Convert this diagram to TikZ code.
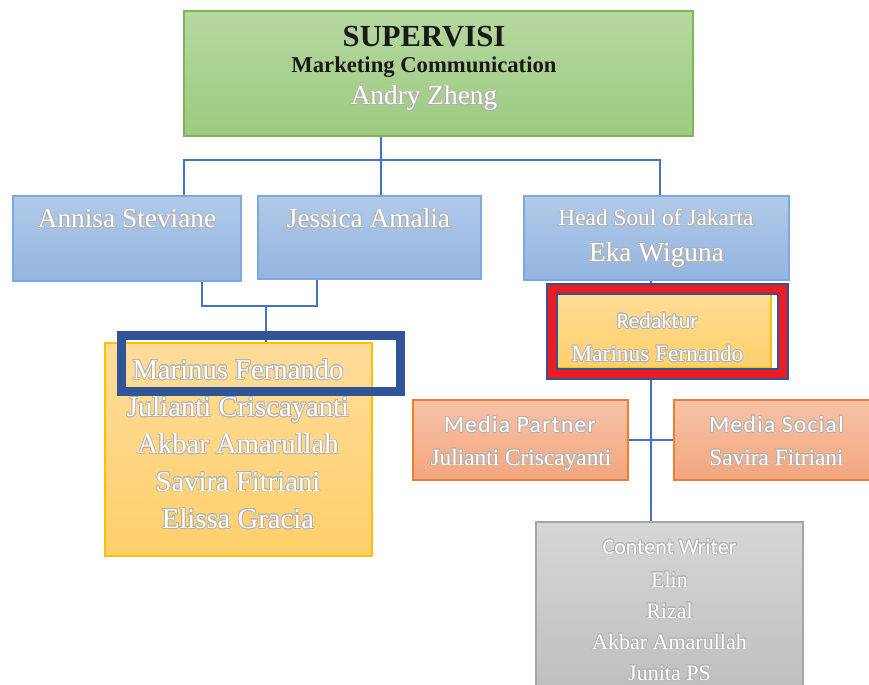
\documentclass[tikz,border=0pt]{standalone}
\usepackage{fontspec}
\setmainfont{Liberation Serif}
\newfontfamily\calfont{Carlito}
\newfontfamily\calspfont[LetterSpace=6]{Carlito}
\usepackage{contour}
\contourlength{0.6pt}
\newcommand{\wt}[1]{\contour{black!30}{#1}}

\definecolor{grTop}{HTML}{B5D8A0}
\definecolor{grBot}{HTML}{9DCA80}
\definecolor{grLine}{HTML}{7FB65A}
\definecolor{blTop}{HTML}{B0CAE9}
\definecolor{blBot}{HTML}{94B5E0}
\definecolor{blLine}{HTML}{7EA9DE}
\definecolor{yeTop}{HTML}{FFDC99}
\definecolor{yeBot}{HTML}{FFCF6B}
\definecolor{yeLine}{HTML}{FFC000}
\definecolor{orTop}{HTML}{F8C2A6}
\definecolor{orBot}{HTML}{F2A67E}
\definecolor{orLine}{HTML}{ED7D31}
\definecolor{gyTop}{HTML}{D6D6D6}
\definecolor{gyBot}{HTML}{BDBDBD}
\definecolor{gyLine}{HTML}{A5A5A5}
\definecolor{cLine}{HTML}{4472C4}
\definecolor{frBlue}{HTML}{2F5597}
\definecolor{frRed}{HTML}{ED1C24}

\begin{document}
\begin{tikzpicture}[x=0.75pt,y=-0.75pt,
  box/.style={line width=0.9pt,inner sep=0pt},
  supbox/.style={box,draw=grLine,top color=grTop,bottom color=grBot},
  bluebox/.style={box,draw=blLine,top color=blTop,bottom color=blBot},
  yelbox/.style={box,draw=yeLine,top color=yeTop,bottom color=yeBot},
  orbox/.style={box,draw=orLine,top color=orTop,bottom color=orBot},
  greybox/.style={box,draw=gyLine,top color=gyTop,bottom color=gyBot},
  conn/.style={draw=cLine,line width=2pt},
  nm/.style={anchor=base,inner sep=0pt,text=white},
  big/.style={nm,font=\fontsize{20.5}{24}\selectfont},
  mid/.style={nm,font=\fontsize{17.5}{21}\selectfont},
  sml/.style={nm,font=\fontsize{16.5}{20}\selectfont},
  cal/.style={nm,font=\fontsize{16.5}{20}\selectfont\calfont},
  calsp/.style={nm,font=\fontsize{17.5}{21}\selectfont\calspfont}]
  \useasboundingbox (0,0) rectangle (869,685);
  \clip (0,0) rectangle (869,685);

  % boxes
  \node[supbox,minimum width=381.75pt,minimum height=93.75pt] (SUP) at (438.5,73.5) {};
  \node[bluebox,minimum width=171pt,minimum height=63.75pt] (AS) at (127,238.5) {};
  \node[bluebox,minimum width=167.25pt,minimum height=62.25pt] (JA) at (369.5,237.5) {};
  \node[bluebox,minimum width=198.75pt,minimum height=63pt] (HS) at (656.5,238) {};
  \node[yelbox,minimum width=200.25pt,minimum height=159.75pt] (TEAM) at (238.5,449.5) {};
  \node[yelbox,minimum width=167.25pt,minimum height=58.5pt] (RED) at (659.5,329) {};
  \node[orbox,minimum width=161.25pt,minimum height=60pt] (MP) at (520.5,440) {};
  \node[orbox,minimum width=161.25pt,minimum height=60pt] (MS) at (781.5,440) {};
  \node[greybox,minimum width=200.25pt,minimum height=135pt] (CW) at (669.5,612) {};

  % connectors
  \coordinate (busA) at (184,160);
  \coordinate (busJ) at (381,160);
  \coordinate (busH) at (660,160);
  \coordinate (jnA) at (202,306);
  \coordinate (jnJ) at (317,306);
  \coordinate (jnM) at (266,306);
  \coordinate (spine) at (651,440);
  \draw[conn] (SUP.south -| busJ) -- (JA.north -| busJ);
  \draw[conn] (AS.north -| busA) |- (busH) -- (HS.north -| busH);
  \draw[conn] (AS.south -| jnA) |- (jnJ) -- (JA.south -| jnJ);
  \draw[conn] (jnM) -- (TEAM.north -| jnM);
  \draw[conn] (HS.south -| spine) -- (RED.north -| spine);
  \draw[conn] (RED.south -| spine) -- (CW.north -| spine);
  \draw[conn] (MP.east) -- (MS.west);

  % texts
  \node[anchor=base,inner sep=0pt,font=\fontsize{23}{28}\selectfont\bfseries,text=black!90] (SUPa) at (424,47) {SUPERVISI};
  \node[anchor=base,inner sep=0pt,font=\fontsize{17}{20}\selectfont\bfseries,text=black!90] (SUPb) at (424,73) {Marketing Communication};
  \node[big] (SUPc) at (424,105) {\wt{Andry Zheng}};
  \node[big] (ASa) at (127,228) {\wt{Annisa Steviane}};
  \node[big] (JAa) at (368.5,228) {\wt{Jessica Amalia}};
  \node[mid] (HSa) at (656,226) {\wt{Head Soul of Jakarta}};
  \node[big] (HSb) at (656.5,261.5) {\wt{Eka Wiguna}};
  \foreach \n [count=\i] in {Marinus Fernando,Julianti Criscayanti,Akbar Amarullah,Savira Fitriani,Elissa Gracia}
    \node[big,font=\fontsize{21.5}{26}\selectfont] (TEAM\i) at (238,{379.3+37.25*(\i-1)}) {\wt{\n}};
  \node[cal] (REDa) at (657.5,328.3) {\wt{Redaktur}};
  \node[mid] (REDb) at (657.5,361.7) {\wt{Marinus Fernando}};
  \node[calsp] (MPa) at (520,432.3) {\wt{Media Partner}};
  \node[mid] (MPb) at (521,465) {\wt{Julianti Criscayanti}};
  \node[calsp] (MSa) at (776.5,432.3) {\wt{Media Social}};
  \node[mid] (MSb) at (776.5,465) {\wt{Savira Fitriani}};
  \node[cal] (CWa) at (669.5,554) {\wt{Content Writer}};
  \foreach \n [count=\i] in {Elin,Rizal,Akbar Amarullah,Junita PS}
    \node[sml] (CW\i) at (669.5,{587+31*(\i-1)}) {\wt{\n}};

  % highlight frames
  \node[draw=frBlue,line width=6.75pt,minimum width=209.25pt,minimum height=42pt,inner sep=0pt] (HLa) at (260.5,363) {};
  \node[draw=frBlue,double=frRed,double distance=6.2pt,line width=1.4pt,minimum width=173.25pt,minimum height=63.75pt,inner sep=0pt] (HLb) at (667.5,331.5) {};
\end{tikzpicture}
\end{document}
